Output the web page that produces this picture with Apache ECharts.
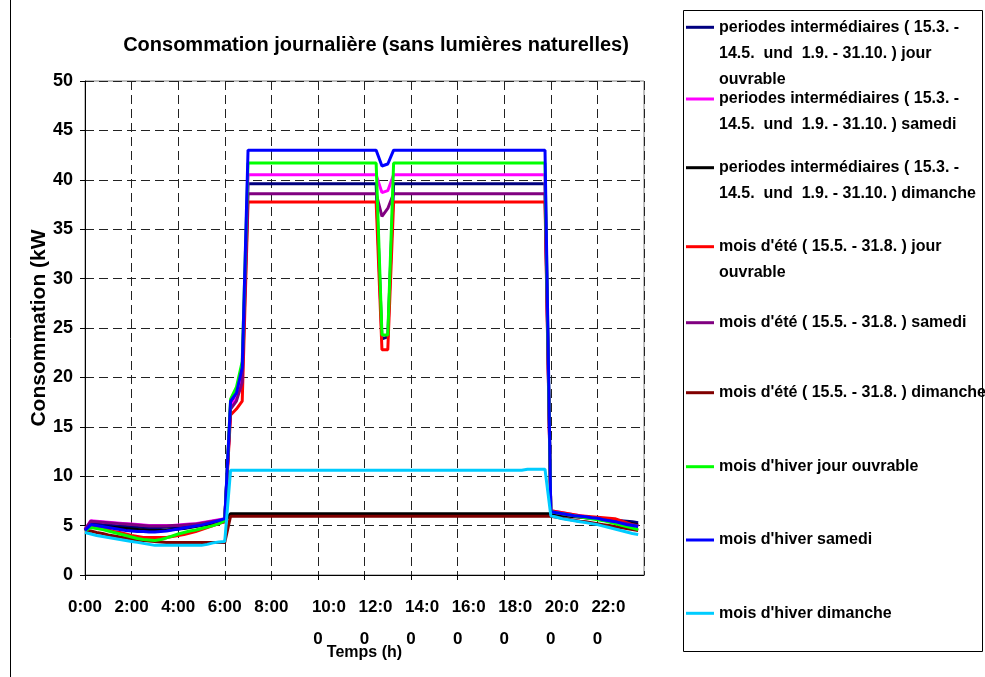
<!DOCTYPE html>
<html>
<head>
<meta charset="utf-8">
<script src="https://cdn.jsdelivr.net/npm/echarts@6/dist/echarts.min.js"></script>
<style>html,body{margin:0;padding:0;background:#fff;}#c{width:985px;height:677px;}</style>
</head>
<body>
<div id="c"></div>
<script>
// ---- data ----
const titleText = 'Consommation journalière (sans lumières naturelles)';
const yAxisName = 'Consommation (kW';
const xAxisName = 'Temps (h)';
const yTicks = [0, 5, 10, 15, 20, 25, 30, 35, 40, 45, 50];
const xTickLabels = ['0:00','2:00','4:00','6:00','8:00','10:00','12:00','14:00','16:00','18:00','20:00','22:00'];

// 15-minute slots 0:00 .. 23:45
const timeSlots = [];
for (let h = 0; h < 24; h++) { for (let q = 0; q < 4; q++) { timeSlots.push(h + q / 4); } }

const seriesNames = [
  "periodes intermédiaires ( 15.3. - 14.5.  und  1.9. - 31.10. ) jour ouvrable",
  "periodes intermédiaires ( 15.3. - 14.5.  und  1.9. - 31.10. ) samedi",
  "periodes intermédiaires ( 15.3. - 14.5.  und  1.9. - 31.10. ) dimanche",
  "mois d'été ( 15.5. - 31.8. ) jour ouvrable",
  "mois d'été ( 15.5. - 31.8. ) samedi",
  "mois d'été ( 15.5. - 31.8. ) dimanche",
  "mois d'hiver jour ouvrable",
  "mois d'hiver samedi",
  "mois d'hiver dimanche"
];
const legendLabels = [
  "periodes intermédiaires ( 15.3. -\n14.5.  und  1.9. - 31.10. ) jour\nouvrable",
  "periodes intermédiaires ( 15.3. -\n14.5.  und  1.9. - 31.10. ) samedi",
  "periodes intermédiaires ( 15.3. -\n14.5.  und  1.9. - 31.10. ) dimanche",
  "mois d'été ( 15.5. - 31.8. ) jour\nouvrable",
  "mois d'été ( 15.5. - 31.8. ) samedi",
  "mois d'été ( 15.5. - 31.8. ) dimanche",
  "mois d'hiver jour ouvrable",
  "mois d'hiver samedi",
  "mois d'hiver dimanche"
];
const seriesColors = ['#000080','#FF00FF','#000000','#FF0000','#800080','#800000','#00FF00','#0000FF','#00CCFF'];

const interJour = [
  4.6,5.3,5.2,5.1,5.0,5.0,4.95,4.9,
  4.9,4.85,4.8,4.8,4.8,4.8,4.85,4.85,
  4.9,4.95,5.0,5.05,5.1,5.2,5.3,5.45,
  5.6,17.2,18.0,20.4,39.6,39.6,39.6,39.6,
  39.6,39.6,39.6,39.6,39.6,39.6,39.6,39.6,
  39.6,39.6,39.6,39.6,39.6,39.6,39.6,39.6,
  39.6,39.6,39.6,23.9,24.1,39.6,39.6,39.6,
  39.6,39.6,39.6,39.6,39.6,39.6,39.6,39.6,
  39.6,39.6,39.6,39.6,39.6,39.6,39.6,39.6,
  39.6,39.6,39.6,39.6,39.6,39.6,39.6,39.6,
  6.4,6.3,6.2,6.1,6.0,5.95,5.9,5.8,
  5.75,5.7,5.6,5.55,5.5,5.45,5.4,5.3
];
const interSamedi = [
  4.6,5.5,5.45,5.4,5.35,5.3,5.25,5.2,
  5.15,5.1,5.05,5.0,5.0,5.0,5.0,5.0,
  5.05,5.1,5.15,5.2,5.3,5.4,5.5,5.6,
  5.7,17.0,17.9,20.0,40.5,40.5,40.5,40.5,
  40.5,40.5,40.5,40.5,40.5,40.5,40.5,40.5,
  40.5,40.5,40.5,40.5,40.5,40.5,40.5,40.5,
  40.5,40.5,40.5,38.7,38.9,40.5,40.5,40.5,
  40.5,40.5,40.5,40.5,40.5,40.5,40.5,40.5,
  40.5,40.5,40.5,40.5,40.5,40.5,40.5,40.5,
  40.5,40.5,40.5,40.5,40.5,40.5,40.5,40.5,
  6.5,6.4,6.3,6.2,6.1,6.0,5.9,5.8,
  5.7,5.6,5.5,5.4,5.3,5.2,5.1,5.0
];
const interDimanche = [
  4.5,5.0,4.95,4.9,4.85,4.8,4.75,4.7,
  4.65,4.6,4.55,4.5,4.5,4.5,4.55,4.6,
  4.65,4.7,4.8,4.9,5.0,5.1,5.2,5.3,
  5.4,6.2,6.2,6.2,6.2,6.2,6.2,6.2,
  6.2,6.2,6.2,6.2,6.2,6.2,6.2,6.2,
  6.2,6.2,6.2,6.2,6.2,6.2,6.2,6.2,
  6.2,6.2,6.2,6.2,6.2,6.2,6.2,6.2,
  6.2,6.2,6.2,6.2,6.2,6.2,6.2,6.2,
  6.2,6.2,6.2,6.2,6.2,6.2,6.2,6.2,
  6.2,6.2,6.2,6.2,6.2,6.2,6.2,6.2,
  6.2,6.1,6.0,5.95,5.9,5.85,5.8,5.75,
  5.7,5.6,5.55,5.5,5.4,5.3,5.2,5.1
];
const eteJour = [
  4.5,4.9,4.8,4.7,4.55,4.4,4.3,4.15,
  4.0,3.9,3.8,3.8,3.8,3.8,3.8,3.9,
  4.0,4.1,4.25,4.4,4.6,4.8,5.0,5.2,
  5.4,16.2,16.8,17.6,37.75,37.75,37.75,37.75,
  37.75,37.75,37.75,37.75,37.75,37.75,37.75,37.75,
  37.75,37.75,37.75,37.75,37.75,37.75,37.75,37.75,
  37.75,37.75,37.75,22.8,22.8,37.75,37.75,37.75,
  37.75,37.75,37.75,37.75,37.75,37.75,37.75,37.75,
  37.75,37.75,37.75,37.75,37.75,37.75,37.75,37.75,
  37.75,37.75,37.75,37.75,37.75,37.75,37.75,37.75,
  6.5,6.4,6.3,6.2,6.1,6.0,5.95,5.9,
  5.85,5.8,5.75,5.7,5.5,5.3,5.1,4.9
];
const eteSamedi = [
  4.6,5.45,5.4,5.35,5.3,5.25,5.2,5.15,
  5.1,5.05,5.0,4.95,4.95,4.95,4.95,5.0,
  5.0,5.05,5.1,5.15,5.25,5.35,5.45,5.55,
  5.6,16.8,17.6,19.5,38.6,38.6,38.6,38.6,
  38.6,38.6,38.6,38.6,38.6,38.6,38.6,38.6,
  38.6,38.6,38.6,38.6,38.6,38.6,38.6,38.6,
  38.6,38.6,38.6,36.3,37.1,38.6,38.6,38.6,
  38.6,38.6,38.6,38.6,38.6,38.6,38.6,38.6,
  38.6,38.6,38.6,38.6,38.6,38.6,38.6,38.6,
  38.6,38.6,38.6,38.6,38.6,38.6,38.6,38.6,
  6.4,6.3,6.2,6.1,6.0,5.9,5.8,5.75,
  5.7,5.6,5.5,5.4,5.3,5.2,5.1,5.0
];
const eteDimanche = [
  4.4,4.45,4.3,4.2,4.05,3.95,3.85,3.75,
  3.65,3.55,3.5,3.45,3.4,3.35,3.3,3.3,
  3.3,3.3,3.3,3.3,3.3,3.3,3.3,3.3,
  3.3,5.95,5.95,5.95,5.95,5.95,5.95,5.95,
  5.95,5.95,5.95,5.95,5.95,5.95,5.95,5.95,
  5.95,5.95,5.95,5.95,5.95,5.95,5.95,5.95,
  5.95,5.95,5.95,5.95,5.95,5.95,5.95,5.95,
  5.95,5.95,5.95,5.95,5.95,5.95,5.95,5.95,
  5.95,5.95,5.95,5.95,5.95,5.95,5.95,5.95,
  5.95,5.95,5.95,5.95,5.95,5.95,5.95,5.95,
  5.95,5.85,5.75,5.65,5.55,5.45,5.4,5.3,
  5.2,5.1,5.0,4.9,4.8,4.7,4.6,4.5
];
const hiverJour = [
  4.5,4.8,4.7,4.6,4.45,4.3,4.15,4.0,
  3.85,3.7,3.6,3.55,3.5,3.6,3.75,3.95,
  4.15,4.3,4.45,4.55,4.7,4.85,5.0,5.2,
  5.5,17.8,19.0,21.6,41.7,41.7,41.7,41.7,
  41.7,41.7,41.7,41.7,41.7,41.7,41.7,41.7,
  41.7,41.7,41.7,41.7,41.7,41.7,41.7,41.7,
  41.7,41.7,41.7,24.3,24.3,41.7,41.7,41.7,
  41.7,41.7,41.7,41.7,41.7,41.7,41.7,41.7,
  41.7,41.7,41.7,41.7,41.7,41.7,41.7,41.7,
  41.7,41.7,41.7,41.7,41.7,41.7,41.7,41.7,
  6.4,6.3,6.2,6.1,6.0,5.9,5.8,5.7,
  5.6,5.5,5.35,5.2,5.05,4.9,4.75,4.6
];
const hiverSamedi = [
  4.5,5.1,5.0,4.9,4.8,4.7,4.6,4.5,
  4.45,4.4,4.4,4.35,4.35,4.4,4.45,4.55,
  4.65,4.75,4.85,4.95,5.05,5.2,5.35,5.5,
  5.7,17.6,18.4,21.0,43.0,43.0,43.0,43.0,
  43.0,43.0,43.0,43.0,43.0,43.0,43.0,43.0,
  43.0,43.0,43.0,43.0,43.0,43.0,43.0,43.0,
  43.0,43.0,43.0,41.4,41.6,43.0,43.0,43.0,
  43.0,43.0,43.0,43.0,43.0,43.0,43.0,43.0,
  43.0,43.0,43.0,43.0,43.0,43.0,43.0,43.0,
  43.0,43.0,43.0,43.0,43.0,43.0,43.0,43.0,
  6.4,6.3,6.2,6.1,6.0,5.95,5.9,5.8,
  5.75,5.6,5.5,5.4,5.25,5.1,5.0,4.9
];
const hiverDimanche = [
  4.3,4.15,4.0,3.9,3.8,3.7,3.6,3.5,
  3.4,3.3,3.2,3.1,3.0,3.0,3.0,3.0,
  3.0,3.0,3.0,3.0,3.0,3.1,3.25,3.35,
  3.4,10.6,10.6,10.6,10.6,10.6,10.6,10.6,
  10.6,10.6,10.6,10.6,10.6,10.6,10.6,10.6,
  10.6,10.6,10.6,10.6,10.6,10.6,10.6,10.6,
  10.6,10.6,10.6,10.6,10.6,10.6,10.6,10.6,
  10.6,10.6,10.6,10.6,10.6,10.6,10.6,10.6,
  10.6,10.6,10.6,10.6,10.6,10.6,10.6,10.6,
  10.6,10.6,10.6,10.6,10.7,10.7,10.7,10.7,
  6.0,5.85,5.7,5.6,5.5,5.4,5.3,5.2,
  5.1,4.95,4.8,4.65,4.5,4.35,4.2,4.1
];
const seriesValues = [interJour, interSamedi, interDimanche, eteJour, eteSamedi, eteDimanche, hiverJour, hiverSamedi, hiverDimanche];

// ---- chart ----
const FONT = "'Liberation Sans',Arial,Helvetica,sans-serif";
const chart = echarts.init(document.getElementById('c'), null, {renderer: 'canvas'});

const legendFirstLineY = [27.3, 99, 167.7, 246.7, 322.7, 392.7, 466.7, 540, 613.3];
const LH = 26;
const legends = seriesNames.map((name, k) => {
  const n = legendLabels[k].split('\n').length;
  const h = n * LH;
  const c = LH / 2;
  return {
    show: true,
    orient: 'vertical',
    left: 686,
    top: legendFirstLineY[k] - LH / 2,
    padding: 0,
    itemWidth: 28,
    itemHeight: h,
    selectedMode: false,
    icon: 'path://M0,0 M0,' + h + ' M0,' + (c - 1.5) + ' L28,' + (c - 1.5) + ' L28,' + (c + 1.5) + ' L0,' + (c + 1.5) + ' Z',
    data: [{name: name}],
    formatter: function () { return legendLabels[k]; },
    textStyle: {fontFamily: FONT, fontWeight: 'bold', fontSize: 16, lineHeight: LH, color: '#000'}
  };
});

const option = {
  animation: false,
  backgroundColor: '#fff',
  title: {
    text: titleText,
    left: 376, top: 35, textAlign: 'center', padding: 0,
    textStyle: {fontFamily: FONT, fontWeight: 'bold', fontSize: 20, color: '#000'}
  },
  legend: legends,
  grid: {left: 85, top: 81, width: 559, bottom: 102, show: true, borderColor: '#808080', borderWidth: 1, containLabel: false},
  xAxis: {
    type: 'value', min: 0, max: 24, interval: 2,
    name: xAxisName, nameLocation: 'middle', nameGap: 70, nameMoveOverlap: false,
    nameTextStyle: {fontFamily: FONT, fontWeight: 'bold', fontSize: 16, color: '#000'},
    axisLine: {lineStyle: {color: '#000', width: 1}},
    axisTick: {show: true, length: 5, lineStyle: {color: '#000'}},
    splitLine: {show: true, lineStyle: {color: '#222', type: [9, 5], width: 1}},
    axisLabel: {
      showMaxLabel: false, margin: 16,
      fontFamily: FONT, fontWeight: 'bold', fontSize: 17, color: '#000',
      formatter: function (v) {
        const s = xTickLabels[Math.round(v / 2)];
        if (!s) return '';
        if (s.length > 4) return '{a|' + s.slice(0, 4) + '}\n{b|' + s.slice(4) + '}';
        return '{b|' + s + '}';
      },
      rich: {
        a: {fontFamily: FONT, fontWeight: 'bold', fontSize: 17, color: '#000', lineHeight: 32, padding: [0, 0, 0, 22]},
        b: {fontFamily: FONT, fontWeight: 'bold', fontSize: 17, color: '#000', lineHeight: 32}
      }
    }
  },
  yAxis: {
    type: 'value', min: yTicks[0], max: yTicks[yTicks.length - 1], interval: yTicks[1] - yTicks[0],
    name: yAxisName, nameLocation: 'middle', nameRotate: 90, nameGap: 35, nameMoveOverlap: false,
    nameTextStyle: {fontFamily: FONT, fontWeight: 'bold', fontSize: 21, color: '#000'},
    axisLine: {show: true, lineStyle: {color: '#000', width: 1}},
    axisTick: {show: true, length: 5, lineStyle: {color: '#000'}},
    splitLine: {show: true, lineStyle: {color: '#222', type: [9, 5], width: 1}},
    axisLabel: {margin: 12, fontFamily: FONT, fontWeight: 'bold', fontSize: 18, color: '#000'}
  },
  graphic: [
    {type: 'line', shape: {x1: 10.5, y1: 0, x2: 10.5, y2: 677}, style: {stroke: '#000', lineWidth: 1}, silent: true},
    {type: 'rect', shape: {x: 683.5, y: 10.5, width: 299, height: 641}, style: {fill: 'none', stroke: '#000', lineWidth: 1}, silent: true, z: -1}
  ],
  series: seriesNames.map((name, k) => ({
    name: name,
    type: 'line',
    data: timeSlots.map((t, i) => [t, seriesValues[k][i]]),
    showSymbol: false,
    symbol: 'none',
    smooth: false,
    color: seriesColors[k],
    lineStyle: {width: 3, color: seriesColors[k]},
    emphasis: {disabled: true}
  }))
};
chart.setOption(option);
</script>
</body>
</html>
